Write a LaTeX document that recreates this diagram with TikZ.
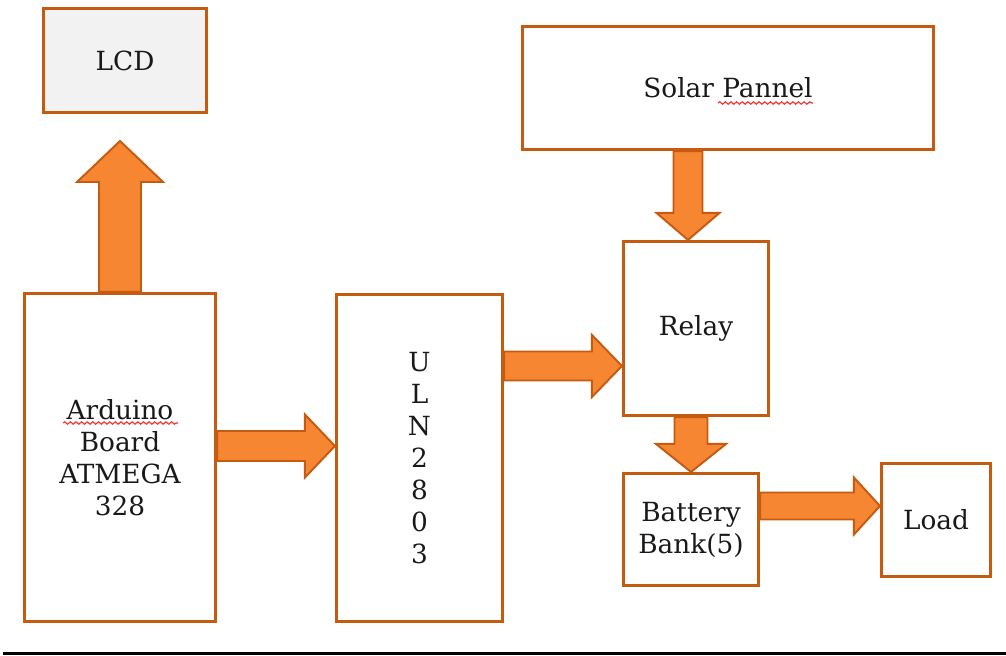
\documentclass[tikz,border=0pt]{standalone}
\usepackage{fontspec}
\setmainfont{DejaVu Serif}
\usetikzlibrary{calc,decorations.pathmorphing}

\definecolor{boxedge}{RGB}{197,90,17}
\definecolor{arrowfill}{RGB}{247,134,50}
\definecolor{lcdfill}{RGB}{242,242,242}

% block arrow: from, to, shaft half width, head half width, head length
\newcommand{\fatarrow}[5]{%
  \coordinate (hb) at ($(#2)!#5!(#1)$);
  \draw[fat] ($(#1)!#3!90:(#2)$) -- ($(hb)!#3!90:(#2)$) -- ($(hb)!#4!90:(#2)$) -- (#2)
    -- ($(hb)!#4!-90:(#2)$) -- ($(hb)!#3!-90:(#2)$) -- ($(#1)!#3!-90:(#2)$) -- cycle;
}

\begin{document}
\begin{tikzpicture}[x=0.02cm,y=-0.02cm,
    box/.style={draw=boxedge,line width=1.8pt,fill=white,inner sep=2pt,align=center,
      text=black!90,font=\fontsize{15}{18.2}\selectfont},
    fat/.style={draw=boxedge,line width=1.1pt,fill=arrowfill,line join=miter},
    squiggle/.style={red!85,line width=0.6pt,decorate,
      decoration={snake,amplitude=0.7pt,segment length=3.2pt}}]
  \useasboundingbox (0,0) rectangle (1006,655);

  \node[box,fill=lcdfill,minimum width=3.26cm,minimum height=2.08cm] (lcd) at (125,60.5) {LCD};
  \node[box,minimum width=3.82cm,minimum height=6.56cm] (ard) at (120,457.5)
    {Arduino\\Board\\ATMEGA\\328};
  \node[box,minimum width=3.32cm,minimum height=6.54cm] (uln) at (419.5,458)
    {U\\L\\N\\2\\8\\0\\3};
  \node[box,minimum width=8.22cm,minimum height=2.46cm] (solar) at (728,88) {Solar Pannel};
  \node[box,minimum width=2.9cm,minimum height=3.48cm] (relay) at (696,328.5) {Relay};
  \node[box,minimum width=2.7cm,minimum height=2.24cm] (bat) at (691,529.5) {Battery\\Bank(5)};
  \node[box,minimum width=2.18cm,minimum height=2.26cm] (load) at (936,520) {Load};

  \coordinate (lcdtip) at (120,141);
  \coordinate (a1) at (ard.east |- 0,446);
  \coordinate (u1) at (uln.west |- 0,446);
  \coordinate (u2) at (uln.east |- 0,366);
  \coordinate (r1) at (relay.west |- 0,366);
  \coordinate (s1) at (solar.south -| 688,0);
  \coordinate (r2) at (relay.north -| 688,0);
  \coordinate (r3) at (relay.south -| 691,0);
  \coordinate (b1) at (bat.north -| 691,0);
  \coordinate (b2) at (bat.east |- 0,506);
  \coordinate (l1) at (load.west |- 0,506);

  \fatarrow{ard.north}{lcdtip}{0.42cm}{0.86cm}{0.82cm}
  \fatarrow{a1}{u1}{0.3cm}{0.63cm}{0.6cm}
  \fatarrow{u2}{r1}{0.29cm}{0.62cm}{0.6cm}
  \fatarrow{s1}{r2}{0.29cm}{0.63cm}{0.54cm}
  \fatarrow{r3}{b1}{0.33cm}{0.7cm}{0.56cm}
  \fatarrow{b2}{l1}{0.27cm}{0.57cm}{0.52cm}

  % spell-check marks
  \draw[squiggle] (63,423) -- (178,423);
  \draw[squiggle] (718,103) -- (813,103);

  \draw[line width=1.7pt] (3,653) -- (1006,653);
\end{tikzpicture}
\end{document}
